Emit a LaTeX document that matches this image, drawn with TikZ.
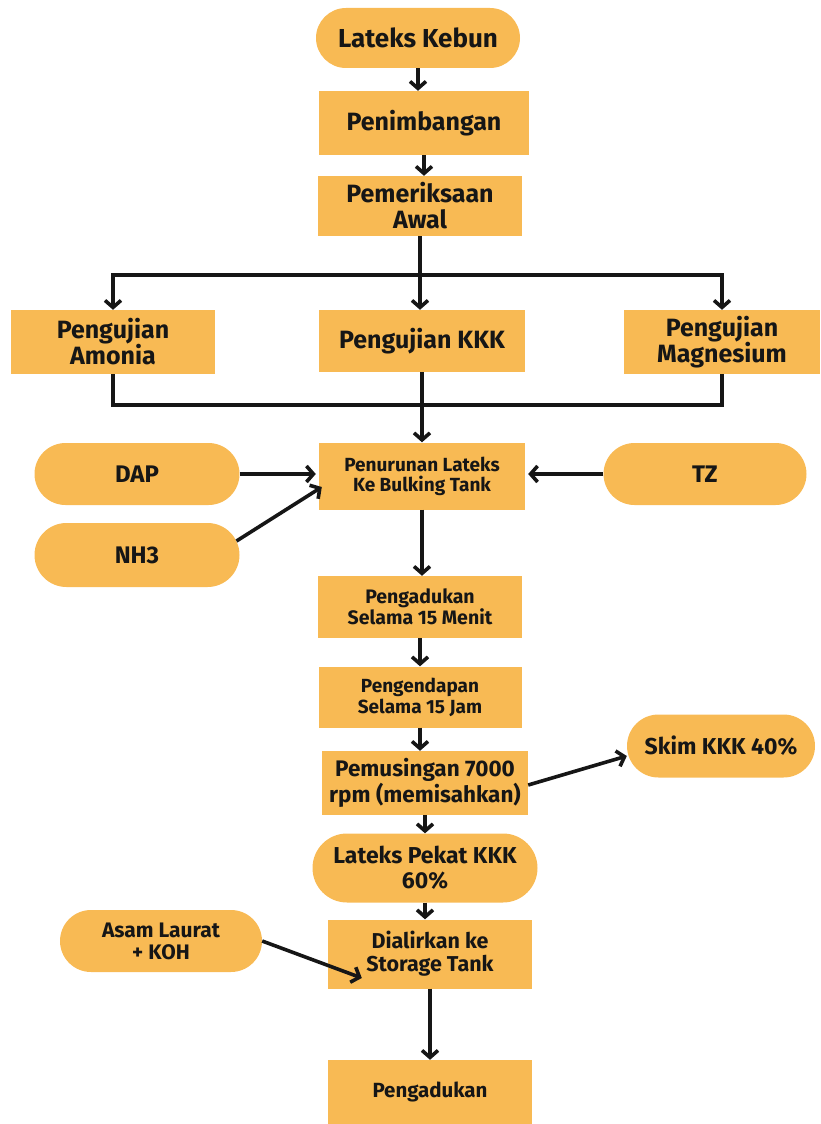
\documentclass[tikz,border=0pt]{standalone}
\usepackage{fontspec}
\setmainfont{Fira Sans}
\usetikzlibrary{shapes,shapes.misc,arrows.meta}
\definecolor{latexorange}{HTML}{F8BA54}
\definecolor{inkblack}{HTML}{161616}

\begin{document}
\begin{tikzpicture}[x=1pt, y=-1pt,
   box/.style={fill=latexorange, inner sep=0pt, align=center, text=inkblack,
     font=\fontsize{25}{26}\selectfont\bfseries},
   pill/.style={box, rounded rectangle},
   flow/.style={line width=3.6pt, draw=inkblack,
     -{Straight Barb[length=7pt, width=16pt, line width=3.6pt]}},
   joint/.style={line width=3.6pt, draw=inkblack}]
   \useasboundingbox (0,0) rectangle (820,1124);
   % main column
   \node[pill, minimum width=204, minimum height=60,
     font=\fontsize{26}{28}\selectfont\bfseries] (kebun) at (418,38) {Lateks Kebun};
   \node[box, minimum width=210, minimum height=64] (timbang) at (424,123) {Penimbangan};
   \node[box, minimum width=204, minimum height=60] (awal) at (420,206) {Pemeriksaan\\Awal};
   % tests
   \node[box, minimum width=204, minimum height=64] (amonia) at (113,342) {Pengujian\\Amonia};
   \node[box, minimum width=206, minimum height=62] (kkk) at (422,341) {Pengujian KKK};
   \node[box, minimum width=196, minimum height=64] (magnesium) at (722,342) {Pengujian\\Magnesium};
   % bulking tank and additives
   \node[box, minimum width=206, minimum height=67,
     font=\fontsize{19}{20}\selectfont\bfseries] (turun) at (422,476) {Penurunan Lateks\\Ke Bulking Tank};
   \node[pill, minimum width=205, minimum height=62,
     font=\fontsize{24}{26}\selectfont\bfseries] (dap) at (137,474) {DAP};
   \node[pill, minimum width=205, minimum height=64,
     font=\fontsize{24}{26}\selectfont\bfseries] (nh3) at (137,555) {NH3};
   \node[pill, minimum width=203, minimum height=62,
     font=\fontsize{24}{26}\selectfont\bfseries] (tz) at (705,474) {TZ};
   \node[box, minimum width=204, minimum height=62,
     font=\fontsize{19.5}{21}\selectfont\bfseries] (aduk15) at (420,607) {Pengadukan\\Selama 15 Menit};
   \node[box, minimum width=203, minimum height=61,
     font=\fontsize{19}{21}\selectfont\bfseries] (endap) at (420,697) {Pengendapan\\Selama 15 Jam};
   \node[box, minimum width=206, minimum height=64,
     font=\fontsize{22.5}{24}\selectfont\bfseries] (pusing) at (425,783) {Pemusingan 7000\\rpm (memisahkan)};
   \node[pill, minimum width=188, minimum height=63,
     font=\fontsize{23}{25}\selectfont\bfseries] (skim) at (721,746) {Skim KKK 40\%};
   \node[pill, minimum width=225, minimum height=69,
     font=\fontsize{23}{25}\selectfont\bfseries] (pekat) at (425,868) {Lateks Pekat KKK\\60\%};
   \node[box, minimum width=204, minimum height=69,
     font=\fontsize{21.5}{23}\selectfont\bfseries] (alir) at (430,954) {Dialirkan ke\\Storage Tank};
   \node[pill, minimum width=202, minimum height=62,
     font=\fontsize{21}{22}\selectfont\bfseries] (asam) at (161,941) {Asam Laurat\\+ KOH};
   \node[box, minimum width=204, minimum height=64,
     font=\fontsize{20.5}{22}\selectfont\bfseries] (aduk) at (430,1092) {Pengadukan};
   % split and merge points
   \coordinate (split) at (awal.south |- 0,275);
   \coordinate (merge) at (kkk.south |- 0,405);
   % connectors
   \draw[flow] (kebun) -- (kebun |- timbang.north);
   \draw[flow] (timbang) -- (timbang |- awal.north);
   \draw[joint] (awal.south) -- (split);
   \draw[flow] (split) -- (split |- kkk.north);
   \draw[flow] (split) -| (amonia.north);
   \draw[flow] (split) -| (magnesium.north);
   \draw[joint] (amonia.south) |- (merge);
   \draw[joint] (magnesium.south) |- (merge);
   \draw[flow] (kkk.south) -- (turun.north);
   \draw[flow] (dap.east) -- ([xshift=-3pt]dap.east -| turun.west);
   \draw[flow] (nh3.8) -- ([xshift=3pt,yshift=-11pt]turun.west);
   \draw[flow] (tz.west) -- ([xshift=3pt]tz.west -| turun.east);
   \draw[flow] (turun.south) -- (turun.south |- aduk15.north);
   \draw[flow] (aduk15.south) -- (endap.north);
   \draw[flow] (endap.south) -- (endap.south |- pusing.north);
   \draw[flow] ([yshift=-2pt]pusing.east) -- ([yshift=-10pt]skim.west);
   \draw[flow] (pusing.south) -- (pusing.south |- pekat.north);
   \draw[flow] (pekat.south) -- (pekat.south |- alir.north);
   \draw[flow] (asam.east) -- ([xshift=34pt,yshift=-24pt]alir.west);
   \draw[flow] (alir.south) -- (aduk.north);
\end{tikzpicture}
\end{document}
